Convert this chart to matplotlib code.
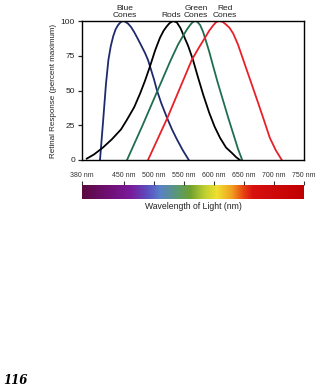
import matplotlib
matplotlib.use("Agg")
import matplotlib.pyplot as plt
import numpy as np
from matplotlib.colors import LinearSegmentedColormap

# ---- data ----
blue_nm = [410, 415, 420, 424, 428, 432, 436, 440, 444, 448, 452, 457, 462, 467, 472, 478, 485, 490, 495, 500, 505, 512, 522, 530, 538, 548, 558]
blue_val = [0, 27, 55, 72, 82, 89, 94, 97, 99, 100, 99.5, 98, 95.5, 92, 88, 83, 77, 72, 65, 58, 50, 41, 30, 22, 15, 7, 0]

rods_nm = [388, 400, 415, 430, 445, 455, 467, 477, 485, 493, 502, 510, 516, 521, 526, 532, 538, 544, 550, 557, 565, 573, 582, 592, 601, 610, 620, 630, 637, 643]
rods_val = [1, 4, 9, 15, 22, 29, 38, 48, 57, 67, 79, 88, 93, 96, 98.5, 100, 99, 95, 89, 82, 72, 60, 47, 34, 24, 16, 9, 5, 2, 0]

green_nm = [455, 480, 505, 527, 540, 548, 555, 560, 564, 568, 572, 577, 582, 587, 592, 597, 606, 615, 624, 632, 640, 647]
green_val = [0, 24, 49, 71, 83, 89, 94, 97, 99, 100, 99.5, 97, 92, 85, 78, 70, 56, 43, 30, 19, 8, 0]

red_nm = [490, 522, 563, 575, 585, 592, 598, 603, 608, 614, 620, 626, 632, 640, 648, 660, 672, 683, 693, 703, 713]
red_val = [0, 30, 72, 81, 88, 93, 96.5, 99, 100, 99.5, 97.5, 95, 91, 83, 73, 58, 43, 29, 16, 7, 0]

y_ticks = [0, 25, 50, 75, 100]
spec_ticks = [380, 450, 500, 550, 600, 650, 700, 750]
spec_labels = ["380 nm", "450 nm", "500 nm", "550 nm", "600 nm", "650 nm", "700 nm", "750 nm"]

spec_stop_nm = [380, 420, 460, 490, 510, 540, 560, 585, 605, 630, 650, 665, 750]
spec_stop_col = ["#5c0a40", "#6e0f70", "#7a1a9a", "#5a50c0", "#5a80c8", "#5a9a70",
                 "#6ea030", "#c0d030", "#f0e030", "#f0a020", "#e84010", "#d81010", "#c00000"]

curve_labels = [("Blue\nCones", 451), ("Rods", 528), ("Green\nCones", 570), ("Red\nCones", 618)]

# ---- figure ----
plt.rcParams['font.family'] = ['Liberation Sans', 'DejaVu Sans']
fig = plt.figure(figsize=(3.2, 3.9), dpi=100)

ax = fig.add_axes([82/320, 1-160/390, 222/320, 139/390])
lw = 1.3
ax.plot(blue_nm, blue_val, color="#1f2a6e", lw=lw)
ax.plot(rods_nm, rods_val, color="#000000", lw=lw)
ax.plot(green_nm, green_val, color="#1f6e4e", lw=lw)
ax.plot(red_nm, red_val, color="#e8202a", lw=lw)
ax.set_xlim(380, 750)
ax.set_ylim(0, 100)
ax.set_xticks([])
ax.set_yticks(y_ticks)
ax.tick_params(axis='y', direction='out', length=3, width=0.9, labelsize=6, pad=2, colors='#222222')
for s in ax.spines.values():
    s.set_linewidth(1.0)
ax.set_ylabel("Retinal Response (percent maximum)", fontsize=5.8, labelpad=3, color='#222222')

for txt, x in curve_labels:
    ax.text(x, 101.5, txt, ha='center', va='bottom', fontsize=6, color='#222222',
            linespacing=1.0)

# spectrum bar
sax = fig.add_axes([82/320, 1-199/390, 222/320, 14/390])
pos = [(n - 380) / (750 - 380) for n in spec_stop_nm]
cmap = LinearSegmentedColormap.from_list("spec", list(zip(pos, spec_stop_col)))
grad = np.linspace(0, 1, 512)[None, :]
sax.imshow(grad, aspect='auto', cmap=cmap, extent=[380, 750, 0, 1])
sax.set_xlim(380, 750)
sax.set_ylim(0, 1)
sax.set_yticks([])
sax.set_xticks(spec_ticks)
sax.set_xticklabels(spec_labels)
sax.xaxis.tick_top()
sax.tick_params(axis='x', direction='out', length=3, width=0.8, labelsize=5, pad=1.5, colors='#333333')
for s in sax.spines.values():
    s.set_visible(False)
sax.set_xlabel("Wavelength of Light (nm)", fontsize=6.2, labelpad=2, color='#222222')

fig.text(3/320, 1-384/390, "116", fontsize=8.5, fontweight='bold', fontstyle='italic',
         family='DejaVu Serif', ha='left', va='baseline')

fig.savefig("out.png", dpi=100)
